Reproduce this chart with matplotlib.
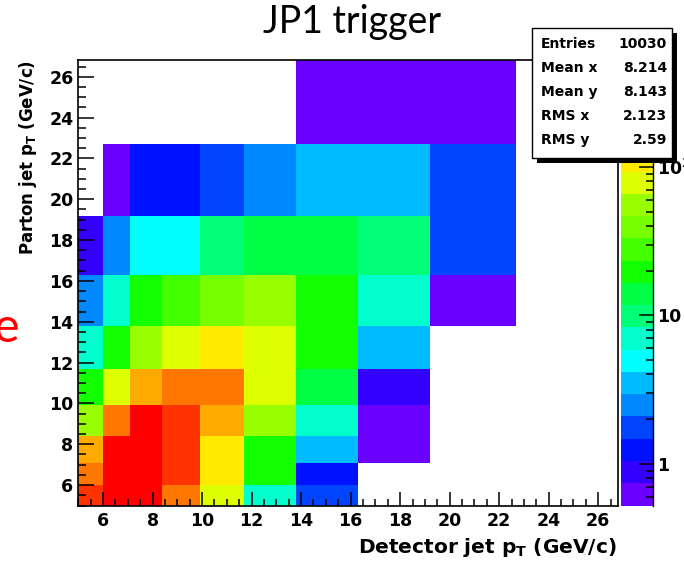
import numpy as np
import matplotlib
matplotlib.use("Agg")
import matplotlib.pyplot as plt
from matplotlib.colors import ListedColormap, LogNorm
from matplotlib.patches import Rectangle
from matplotlib.ticker import MultipleLocator, FixedLocator, FixedFormatter, LogLocator

# jet pT bin edges (GeV/c), same for detector (x) and parton (y)
pt_edges = [5.0, 6.0, 7.1, 8.4, 9.9, 11.7, 13.8, 16.3, 19.2, 22.7, 26.8]

nan = np.nan
# counts per cell, one row per parton pT bin (bottom to top), columns = detector pT bins
row_5_6 = [310, 440, 440, 220, 78, 7, 1.8, nan, nan, nan]
row_6_7 = [220, 440, 440, 310, 110, 20, 1.2, nan, nan, nan]
row_7_8 = [155, 440, 440, 310, 110, 20, 3.5, 0.6, nan, nan]
row_8_10 = [55, 220, 440, 310, 155, 55, 7, 0.6, nan, nan]
row_10_12 = [20, 78, 155, 220, 220, 78, 14, 0.9, nan, nan]
row_12_14 = [7, 20, 55, 78, 110, 78, 20, 3.5, nan, nan]
row_14_16 = [2.5, 7, 20, 28, 39, 55, 20, 7, 0.6, nan]
row_16_19 = [0.9, 2.5, 5, 5, 10, 14, 14, 10, 1.8, nan]
row_19_23 = [nan, 0.6, 1.2, 1.2, 1.8, 2.5, 3.5, 3.5, 1.8, nan]
row_23_27 = [nan, nan, nan, nan, nan, nan, 0.6, 0.6, 0.6, nan]

counts = np.array([row_5_6, row_6_7, row_7_8, row_8_10, row_10_12,
                   row_12_14, row_14_16, row_16_19, row_19_23, row_23_27])

stats_names = ["Entries", "Mean x", "Mean y", "RMS x", "RMS y"]
stats_values = ["10030", "8.214", "8.143", "2.123", "2.59"]

# ROOT-like rainbow palette, 20 contour levels
root_colors = ['#6a00ff', '#3300ff', '#0011ff', '#0044ff', '#0088ff',
               '#00bbff', '#00ffff', '#00ffcc', '#00ff77', '#00ff44',
               '#11ff00', '#44ff00', '#77ff00', '#99ff00', '#ddff00',
               '#ffea00', '#ffaa00', '#ff7700', '#ff3300', '#ff0000']
cmap = ListedColormap(root_colors)
norm = LogNorm(vmin=0.523, vmax=523)

W, H = 684, 561
def fx(x):
    return x / W
def fy(y):
    return 1 - y / H

root_font = 'DejaVu Sans'

fig = plt.figure(figsize=(W / 100, H / 100), dpi=100)
ax = fig.add_axes([fx(78.3), fy(505.5), (618 - 78.3) / W, (505.5 - 60.4) / H])

mesh = ax.pcolormesh(pt_edges, pt_edges, np.ma.masked_invalid(counts),
                     cmap=cmap, norm=norm)
ax.set_xlim(5, 26.8)
ax.set_ylim(5, 26.8)

for axis in (ax.xaxis, ax.yaxis):
    axis.set_major_locator(MultipleLocator(2))
    axis.set_minor_locator(MultipleLocator(0.5))
ax.tick_params(which='both', direction='in', top=False, right=False, width=1.1)
ax.tick_params(axis='x', which='major', length=10, pad=5)
ax.tick_params(axis='x', which='minor', length=5)
ax.tick_params(axis='y', which='major', length=11.5, pad=3.5)
ax.tick_params(axis='y', which='minor', length=5.8)
for lab in ax.get_xticklabels() + ax.get_yticklabels():
    lab.set_fontfamily(root_font)
    lab.set_fontweight('bold')
    lab.set_fontsize(12.5)
for sp in ax.spines.values():
    sp.set_linewidth(1.2)

# palette
cax = fig.add_axes([fx(621), fy(505.5), 32 / W, (505.5 - 60.4) / H])
cbar = fig.colorbar(mesh, cax=cax)
cbar.outline.set_visible(False)
cax.plot([1, 1], [0, 1], transform=cax.transAxes, color='k', lw=1.0, clip_on=False)
cax.yaxis.set_major_locator(FixedLocator([1, 10, 100]))
cax.yaxis.set_major_formatter(FixedFormatter(['1', '10', '10$^{2}$']))
cax.yaxis.set_minor_locator(LogLocator(base=10, subs=np.arange(2, 10)))
cax.yaxis.set_minor_formatter(FixedFormatter([]))
cax.tick_params(which='both', direction='in', right=True, left=False, width=1.1)
cax.tick_params(which='major', length=10, pad=3)
cax.tick_params(which='minor', length=5)
for lab in cax.get_yticklabels():
    lab.set_fontfamily(root_font)
    lab.set_fontweight('bold')
    lab.set_fontsize(12.5)

# axis titles
fig.text(fx(617), fy(553), r'Detector jet p$_{\mathbf{T}}$ (GeV/c)',
         ha='right', va='baseline', fontsize=14.5, fontweight='bold',
         family=root_font)
fig.text(fx(33), fy(60), r'Parton jet p$_{\mathbf{T}}$ (GeV/c)',
         ha='right', va='baseline', rotation=90, rotation_mode='anchor',
         fontsize=12, fontweight='bold', family=root_font)

# slide title and cut-off slide text
fig.text(fx(352), fy(33), 'JP1 trigger', ha='center', va='baseline',
         fontsize=27, family='Lato')
fig.text(fx(20), fy(342), 'e', ha='right', va='baseline', fontsize=35,
         color='#ff0000', family='Lato')

# statistics box with shadow
fig.add_artist(Rectangle((fx(537), fy(163)), (672 - 532) / W, (158 - 28) / H,
                         transform=fig.transFigure, facecolor='black',
                         edgecolor='none', zorder=10))
fig.add_artist(Rectangle((fx(532), fy(158)), (672 - 532) / W, (158 - 28) / H,
                         transform=fig.transFigure, facecolor='white',
                         edgecolor='black', lw=1.0, zorder=11))
for i, (name, val) in enumerate(zip(stats_names, stats_values)):
    yc = 44 + i * 24
    fig.text(fx(541), fy(yc), name, ha='left', va='center', fontsize=10,
             fontweight='bold', family=root_font, zorder=12)
    fig.text(fx(667), fy(yc), val, ha='right', va='center', fontsize=10,
             fontweight='bold', family=root_font, zorder=12)

fig.savefig('out.png', dpi=100)
